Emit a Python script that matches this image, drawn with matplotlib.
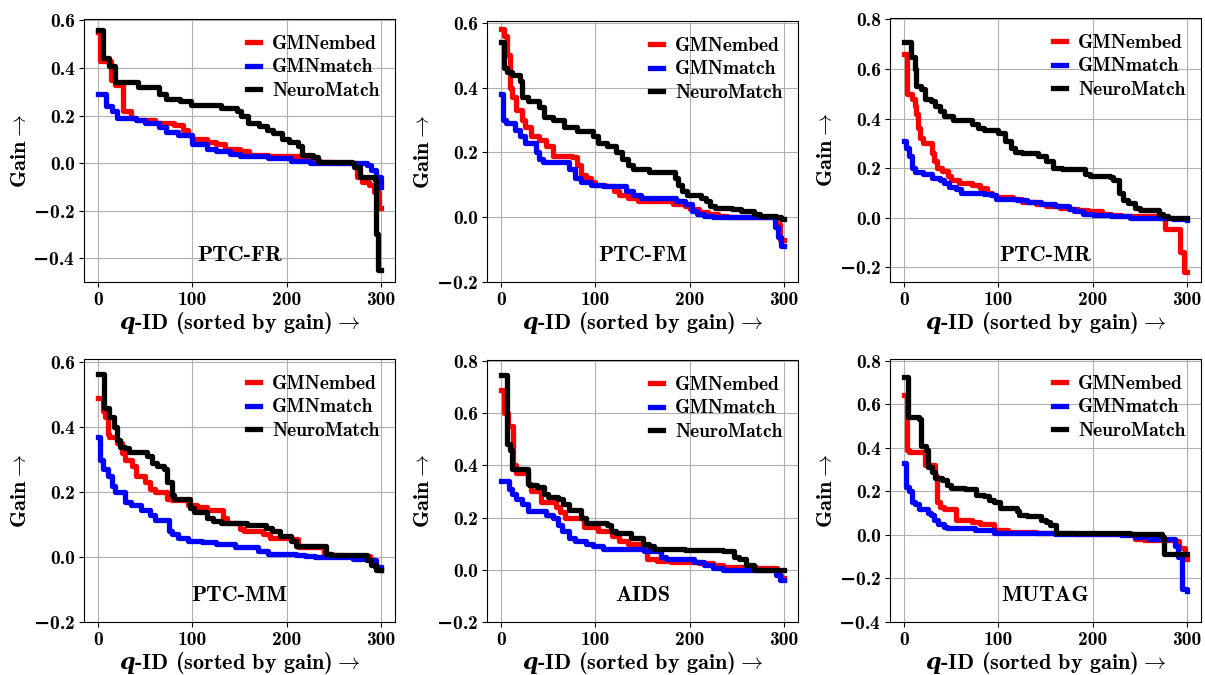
import matplotlib
matplotlib.use("Agg")
import matplotlib.pyplot as plt
from matplotlib.ticker import FuncFormatter

plt.rcParams["font.family"] = ["cmb10", "DejaVu Serif"]
plt.rcParams["mathtext.fontset"] = "custom"
plt.rcParams["mathtext.rm"] = "cmb10"
plt.rcParams["mathtext.bf"] = "cmb10"
plt.rcParams["mathtext.it"] = "DejaVu Serif:italic:bold"
plt.rcParams["mathtext.sf"] = "DejaVu Serif:bold"

# --- datos: (x, gain) en cada escalon ---
titles = ["PTC-FR", "PTC-FM", "PTC-MR", "PTC-MM", "AIDS", "MUTAG"]
labels = ["GMNembed", "GMNmatch", "NeuroMatch"]

fr_embed_x = [0, 2, 14, 18, 26, 35, 40, 60, 80, 90, 95, 100, 115, 125, 135, 150, 160, 180, 215, 225, 235, 250, 275, 280, 287, 293, 298, 300]
fr_embed_y = [0.55, 0.43, 0.35, 0.33, 0.22, 0.19, 0.18, 0.17, 0.16, 0.14, 0.12, 0.10, 0.09, 0.08, 0.06, 0.05, 0.035, 0.03, 0.02, 0.01, 0.005, 0.0, -0.06, -0.08, -0.09, -0.12, -0.19, -0.19]
fr_match_x = [0, 8, 15, 20, 40, 50, 65, 72, 85, 100, 115, 125, 140, 150, 180, 205, 225, 285, 290, 295, 300]
fr_match_y = [0.29, 0.24, 0.22, 0.19, 0.18, 0.17, 0.15, 0.13, 0.12, 0.08, 0.06, 0.05, 0.04, 0.03, 0.02, 0.01, 0.0, -0.01, -0.03, -0.06, -0.10]
fr_neuro_x = [0, 5, 12, 18, 42, 65, 72, 87, 99, 130, 147, 152, 159, 171, 179, 186, 195, 203, 212, 216, 228, 233, 269, 271, 278, 294, 295, 297, 300]
fr_neuro_y = [0.56, 0.44, 0.41, 0.34, 0.32, 0.29, 0.27, 0.26, 0.245, 0.23, 0.22, 0.20, 0.17, 0.155, 0.14, 0.125, 0.10, 0.09, 0.07, 0.035, 0.025, 0.005, 0.0, -0.015, -0.06, -0.07, -0.30, -0.45, -0.45]

fm_embed_x = [0, 3, 6, 9, 12, 16, 22, 25, 32, 40, 48, 55, 75, 80, 85, 90, 95, 100, 110, 120, 125, 135, 145, 182, 195, 200, 210, 220, 230, 240, 292, 296, 300]
fm_embed_y = [0.58, 0.56, 0.50, 0.40, 0.37, 0.33, 0.30, 0.28, 0.25, 0.24, 0.22, 0.19, 0.185, 0.16, 0.13, 0.12, 0.11, 0.10, 0.095, 0.08, 0.07, 0.06, 0.05, 0.04, 0.035, 0.025, 0.015, 0.01, 0.005, 0.0, -0.02, -0.07, -0.07]
fm_match_x = [0, 2, 5, 15, 20, 25, 37, 40, 44, 72, 78, 85, 95, 108, 133, 140, 148, 186, 195, 203, 208, 215, 225, 235, 291, 294, 297, 300]
fm_match_y = [0.38, 0.30, 0.29, 0.27, 0.25, 0.23, 0.20, 0.18, 0.17, 0.15, 0.12, 0.11, 0.10, 0.095, 0.08, 0.07, 0.06, 0.05, 0.04, 0.02, 0.01, 0.005, 0.002, 0.0, -0.03, -0.06, -0.09, -0.09]
fm_neuro_x = [0, 3, 6, 12, 20, 22, 28, 40, 45, 55, 67, 80, 97, 103, 112, 122, 128, 135, 140, 157, 185, 188, 192, 197, 212, 217, 222, 227, 245, 255, 268, 275, 292, 297, 300]
fm_neuro_y = [0.54, 0.46, 0.45, 0.44, 0.42, 0.37, 0.36, 0.34, 0.31, 0.30, 0.28, 0.265, 0.25, 0.23, 0.22, 0.20, 0.18, 0.16, 0.15, 0.14, 0.12, 0.10, 0.08, 0.07, 0.06, 0.05, 0.035, 0.03, 0.025, 0.02, 0.01, 0.003, 0.0, -0.005, -0.005]

mr_embed_x = [0, 3, 8, 11, 13, 15, 17, 20, 30, 32, 35, 40, 47, 50, 58, 72, 80, 88, 93, 97, 115, 125, 140, 150, 165, 175, 185, 195, 210, 220, 230, 250, 270, 277, 290, 293, 297, 300]
mr_embed_y = [0.66, 0.50, 0.48, 0.45, 0.42, 0.36, 0.32, 0.30, 0.26, 0.23, 0.20, 0.19, 0.17, 0.15, 0.14, 0.13, 0.12, 0.10, 0.09, 0.085, 0.075, 0.065, 0.055, 0.045, 0.04, 0.035, 0.03, 0.025, 0.015, 0.01, 0.007, 0.005, 0.0, -0.045, -0.045, -0.14, -0.22, -0.22]
mr_match_x = [0, 2, 5, 8, 12, 20, 30, 38, 42, 48, 55, 60, 85, 92, 98, 120, 130, 145, 160, 175, 180, 190, 200, 220, 240, 285, 300]
mr_match_y = [0.31, 0.28, 0.25, 0.20, 0.185, 0.175, 0.16, 0.15, 0.14, 0.125, 0.115, 0.10, 0.095, 0.09, 0.075, 0.07, 0.065, 0.055, 0.045, 0.035, 0.025, 0.015, 0.01, 0.005, 0.0, -0.005, -0.01]
mr_neuro_x = [0, 7, 12, 13, 18, 22, 28, 33, 38, 42, 52, 72, 78, 85, 100, 107, 113, 118, 125, 142, 150, 158, 168, 192, 197, 218, 222, 228, 232, 238, 245, 250, 258, 270, 275, 280, 300]
mr_neuro_y = [0.71, 0.65, 0.60, 0.53, 0.52, 0.48, 0.47, 0.45, 0.43, 0.41, 0.395, 0.38, 0.36, 0.355, 0.34, 0.31, 0.28, 0.265, 0.26, 0.25, 0.23, 0.20, 0.195, 0.175, 0.17, 0.165, 0.15, 0.10, 0.07, 0.06, 0.04, 0.03, 0.03, 0.015, 0.005, 0.0, 0.0]

mm_embed_x = [0, 5, 7, 10, 12, 20, 25, 28, 36, 40, 50, 55, 60, 73, 78, 95, 105, 115, 132, 137, 150, 155, 175, 182, 205, 212, 240, 248, 262, 288, 294, 300]
mm_embed_y = [0.49, 0.45, 0.43, 0.38, 0.37, 0.35, 0.32, 0.30, 0.28, 0.25, 0.23, 0.21, 0.20, 0.18, 0.175, 0.16, 0.155, 0.145, 0.12, 0.105, 0.085, 0.08, 0.07, 0.06, 0.055, 0.03, 0.01, 0.005, 0.003, -0.01, -0.03, -0.03]
mm_match_x = [0, 2, 5, 10, 15, 18, 28, 35, 45, 55, 60, 75, 78, 85, 95, 110, 125, 145, 170, 180, 210, 220, 230, 270, 285, 295, 300]
mm_match_y = [0.37, 0.30, 0.27, 0.25, 0.22, 0.20, 0.17, 0.16, 0.145, 0.13, 0.115, 0.08, 0.07, 0.06, 0.05, 0.045, 0.04, 0.03, 0.02, 0.01, 0.005, 0.003, 0.0, -0.005, -0.01, -0.03, -0.04]
mm_neuro_x = [0, 5, 6, 12, 17, 20, 23, 28, 33, 52, 57, 62, 70, 73, 78, 80, 97, 102, 115, 122, 130, 158, 178, 185, 193, 205, 210, 242, 247, 285, 290, 295, 300]
mm_neuro_y = [0.565, 0.565, 0.46, 0.43, 0.40, 0.36, 0.34, 0.335, 0.325, 0.31, 0.29, 0.28, 0.27, 0.23, 0.19, 0.18, 0.15, 0.14, 0.12, 0.11, 0.105, 0.10, 0.09, 0.08, 0.065, 0.05, 0.035, 0.01, 0.005, -0.01, -0.025, -0.04, -0.04]

aids_embed_x = [0, 3, 7, 13, 16, 28, 32, 42, 58, 62, 68, 88, 103, 118, 125, 135, 148, 155, 165, 180, 210, 225, 235, 270, 293, 297, 300]
aids_embed_y = [0.69, 0.60, 0.55, 0.40, 0.37, 0.33, 0.30, 0.26, 0.24, 0.22, 0.20, 0.165, 0.15, 0.13, 0.11, 0.10, 0.08, 0.04, 0.035, 0.03, 0.025, 0.02, 0.01, 0.005, -0.02, -0.03, -0.03]
aids_match_x = [0, 8, 12, 16, 22, 28, 48, 55, 60, 65, 72, 78, 90, 98, 108, 152, 170, 175, 205, 215, 225, 235, 292, 296, 300]
aids_match_y = [0.34, 0.31, 0.29, 0.27, 0.25, 0.225, 0.21, 0.20, 0.17, 0.15, 0.12, 0.11, 0.10, 0.09, 0.08, 0.07, 0.05, 0.04, 0.03, 0.02, 0.005, 0.0, -0.02, -0.04, -0.04]
aids_neuro_x = [0, 6, 9, 12, 28, 30, 38, 45, 50, 60, 66, 72, 85, 90, 112, 117, 122, 138, 150, 157, 162, 170, 195, 235, 247, 252, 260, 268, 300]
aids_neuro_y = [0.745, 0.48, 0.46, 0.385, 0.33, 0.325, 0.315, 0.29, 0.28, 0.27, 0.25, 0.23, 0.20, 0.18, 0.17, 0.15, 0.14, 0.12, 0.10, 0.09, 0.08, 0.08, 0.075, 0.07, 0.05, 0.04, 0.02, 0.0, 0.0]

mut_embed_x = [0, 3, 5, 22, 33, 35, 38, 42, 55, 72, 80, 95, 110, 140, 180, 245, 255, 287, 292, 298, 300]
mut_embed_y = [0.64, 0.39, 0.38, 0.32, 0.27, 0.15, 0.13, 0.12, 0.07, 0.06, 0.05, 0.02, 0.015, 0.01, 0.005, -0.02, -0.025, -0.03, -0.06, -0.11, -0.11]
mut_match_x = [0, 2, 5, 8, 12, 16, 25, 28, 32, 36, 42, 45, 75, 95, 160, 230, 245, 260, 287, 291, 295, 300]
mut_match_y = [0.33, 0.22, 0.20, 0.15, 0.14, 0.12, 0.10, 0.09, 0.07, 0.05, 0.035, 0.03, 0.02, 0.01, 0.005, 0.0, -0.01, -0.02, -0.05, -0.10, -0.25, -0.26]
mut_neuro_x = [0, 4, 16, 18, 23, 25, 30, 33, 40, 45, 50, 65, 76, 85, 90, 95, 102, 120, 122, 130, 145, 150, 155, 161, 190, 240, 274, 276, 300]
mut_neuro_y = [0.725, 0.54, 0.53, 0.41, 0.39, 0.31, 0.29, 0.26, 0.25, 0.23, 0.215, 0.21, 0.185, 0.18, 0.16, 0.15, 0.125, 0.11, 0.09, 0.085, 0.07, 0.06, 0.045, 0.01, 0.008, 0.005, -0.01, -0.09, -0.09]

series = [
    [(fr_embed_x, fr_embed_y), (fr_match_x, fr_match_y), (fr_neuro_x, fr_neuro_y)],
    [(fm_embed_x, fm_embed_y), (fm_match_x, fm_match_y), (fm_neuro_x, fm_neuro_y)],
    [(mr_embed_x, mr_embed_y), (mr_match_x, mr_match_y), (mr_neuro_x, mr_neuro_y)],
    [(mm_embed_x, mm_embed_y), (mm_match_x, mm_match_y), (mm_neuro_x, mm_neuro_y)],
    [(aids_embed_x, aids_embed_y), (aids_match_x, aids_match_y), (aids_neuro_x, aids_neuro_y)],
    [(mut_embed_x, mut_embed_y), (mut_match_x, mut_match_y), (mut_neuro_x, mut_neuro_y)],
]
ylims = [(-0.5, 0.606), (-0.2, 0.606), (-0.26, 0.806), (-0.2, 0.61), (-0.2, 0.803), (-0.4, 0.807)]
yticks = [[-0.4, -0.2, 0.0, 0.2, 0.4, 0.6], [-0.2, 0.0, 0.2, 0.4, 0.6], [-0.2, 0.0, 0.2, 0.4, 0.6, 0.8],
          [-0.2, 0.0, 0.2, 0.4, 0.6], [-0.2, 0.0, 0.2, 0.4, 0.6, 0.8], [-0.4, -0.2, 0.0, 0.2, 0.4, 0.6, 0.8]]
colors = ["red", "blue", "black"]


def fmt_y(v, pos):
    # signo menos largo tomado de DejaVu Serif (cmb10 no lo tiene)
    if v < -1e-9:
        return r"$\mathsf{-}$" + f"{abs(v):.1f}"
    return f"{abs(v):.1f}"


# posiciones de los ejes en pixeles (izq, arriba, der, abajo)
W, H = 1205, 675
boxes = [(84, 19, 395, 282), (487, 21, 798, 282), (890, 18, 1201, 282),
         (84, 359, 395, 622), (487, 360, 798, 622), (890, 359, 1201, 622)]

fig = plt.figure(figsize=(W / 100, H / 100), dpi=100)
for k in range(6):
    l, t, r, b = boxes[k]
    ax = fig.add_axes([l / W, 1 - b / H, (r - l) / W, (b - t) / H])
    for (xs, ys), c, lab in zip(series[k], colors, labels):
        ax.plot(xs, ys, drawstyle="steps-post", color=c, lw=3.8, label=lab)
    ax.set_xlim(-15, 315)
    ax.set_ylim(*ylims[k])
    ax.set_xticks([0, 100, 200, 300])
    ax.set_yticks(yticks[k])
    ax.yaxis.set_major_formatter(FuncFormatter(fmt_y))
    ax.tick_params(labelsize=14, pad=3)
    ax.grid(color="#b0b0b0", lw=0.8)
    ax.set_axisbelow(True)
    ax.set_xlabel(r"$\mathit{q}$-ID (sorted by gain)$\rightarrow$", fontsize=16, labelpad=1)
    ax.set_ylabel(r"Gain$\rightarrow$", fontsize=16, labelpad=2)
    ax.text(0.5, 0.1, titles[k], transform=ax.transAxes, ha="center", va="center", fontsize=16)
    ax.legend(loc="upper right", fontsize=14, frameon=False, handlelength=0.7,
              handletextpad=0.6, labelspacing=0.3, borderaxespad=0.4)

fig.savefig("out.png", dpi=100)
